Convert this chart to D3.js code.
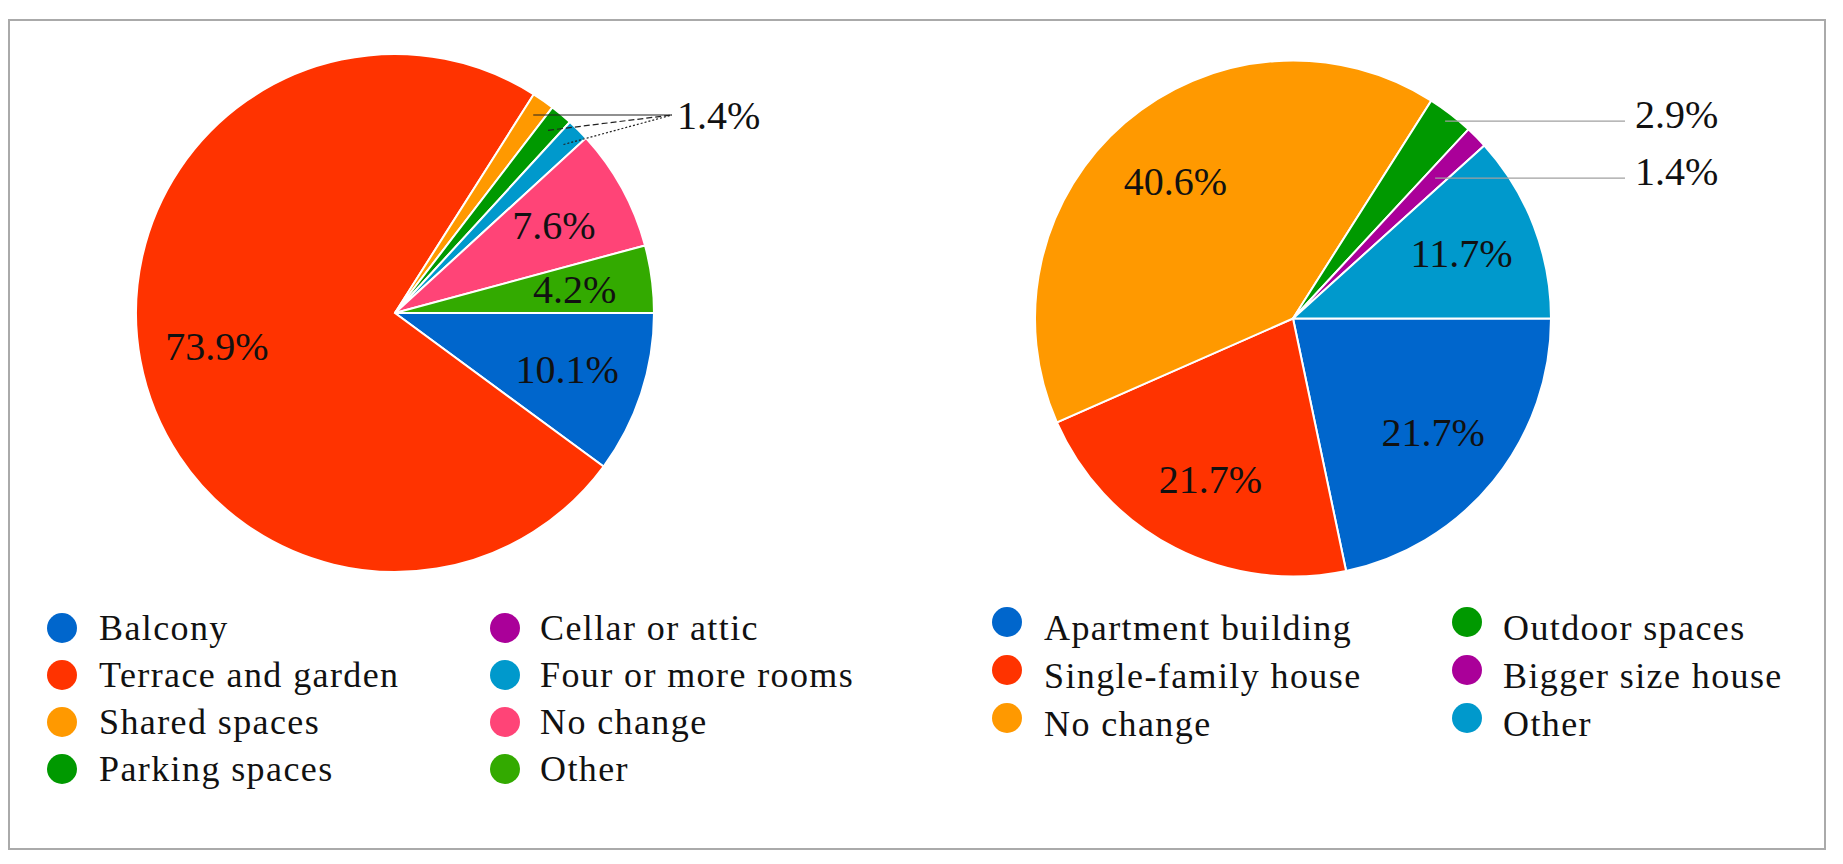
<!DOCTYPE html>
<html>
<head>
<meta charset="utf-8">
<script src="https://cdn.jsdelivr.net/npm/d3@7"></script>
<style>
  body { margin: 0; background: #ffffff; }
  text { font-family: "Liberation Serif", "DejaVu Serif", serif; }
</style>
</head>
<body>
<div id="my_dataviz"></div>
<script>
// data
var leftCategories = ["Balcony", "Terrace and garden", "Shared spaces", "Parking spaces",
                      "Cellar or attic", "Four or more rooms", "No change", "Other"];
var leftValues = [10.1, 73.9, 1.4, 1.4, 0, 1.4, 7.6, 4.2];
var leftColors = ["#0066cc", "#ff3300", "#ff9900", "#009900", "#aa0099", "#0099cc", "#ff4477", "#33aa00"];

var rightCategories = ["Apartment building", "Single-family house", "No change",
                       "Outdoor spaces", "Bigger size house", "Other"];
var rightValues = [21.7, 21.7, 40.6, 2.9, 1.4, 11.7];
var rightColors = ["#0066cc", "#ff3300", "#ff9900", "#009900", "#aa0099", "#0099cc"];

(function () {
    var width = 1843
    var height = 864
    var fontSize = 40
    var digitH = fontSize * 0.68
    var smallLimit = 3      // slices under this get an outside label
    var minLabelStep = 57   // vertical room between outside labels

    var charts = [
        { categories: leftCategories, values: leftValues, colors: leftColors,
          cx: 395, cy: 313, r: 259, groupSmall: true,
          labelGap: 23, lineGap: 5, lineDy: 0, lineColor: "#222",
          dashes: ["none", "6,3", "2,2"],
          dotX: [62, 505], textX: [99, 540], legendBase: 640, legendStep: 47, dotDy: -12 },
        { categories: rightCategories, values: rightValues, colors: rightColors,
          cx: 1293, cy: 318.5, r: 258, groupSmall: false,
          labelGap: 84, lineGap: 10, lineDy: 7, lineColor: "#a0a0a0",
          dashes: ["none"],
          dotX: [1007, 1467], textX: [1044, 1503], legendBase: 640, legendStep: 48, dotDy: -18 }
    ]

    var svg = d3.select("#my_dataviz")
        .append("svg")
        .attr("width", width)
        .attr("height", height)

    // grey frame round the figure
    svg.append("rect")
        .attr("x", 9)
        .attr("y", 20)
        .attr("width", 1816)
        .attr("height", 829)
        .attr("fill", "none")
        .attr("stroke", "#aaaaaa")
        .attr("stroke-width", 2)

    charts.forEach(function (c) {
        var color = d3.scaleOrdinal()
            .domain(c.categories)
            .range(c.colors)

        // pie starts at 3 o'clock and goes clockwise
        var pie = d3.pie()
            .sort(null)
            .startAngle(Math.PI / 2)
            .endAngle(Math.PI / 2 + 2 * Math.PI)
            .value(function (d) { return d.value; })

        var data_ready = pie(c.categories.map(function (k, i) {
            return { key: k, value: c.values[i] };
        }))

        var arcGenerator = d3.arc()
            .innerRadius(0)
            .outerRadius(c.r)

        var g = svg.append("g")
            .attr("transform", "translate(" + c.cx + "," + c.cy + ")")

        g.selectAll("path")
            .data(data_ready.filter(function (d) { return d.value > 0; }))
            .enter()
            .append("path")
            .attr("d", arcGenerator)
            .attr("fill", function (d) { return color(d.data.key); })
            .attr("stroke", "#ffffff")
            .style("stroke-width", "2px")

        function mid(d) { return (d.startAngle + d.endAngle) / 2; }

        // inside labels: start at 0.7r, push outward until the text box fits in the slice
        var inside = data_ready.filter(function (d) { return d.value >= smallLimit; })
        inside.forEach(function (d) {
            var t = g.append("text")
                .text(d.value.toFixed(1) + "%")
                .attr("text-anchor", "middle")
                .style("font-size", fontSize + "px")
                .attr("fill", "#111")
            var w = t.node().getComputedTextLength()
            var a = mid(d), span = d.endAngle - d.startAngle, pad = 3
            function fits(R) {
                var x0 = R * Math.sin(a), y0 = -R * Math.cos(a)
                var ok = true
                ;[[-1, -1], [1, -1], [-1, 1], [1, 1]].forEach(function (s) {
                    var x = x0 + s[0] * (w / 2 + pad), y = y0 + s[1] * (digitH / 2 + pad)
                    var ang = Math.atan2(x, -y)
                    var rel = ((ang - d.startAngle) % (2 * Math.PI) + 4 * Math.PI) % (2 * Math.PI)
                    if (rel > span || Math.sqrt(x * x + y * y) > c.r - pad) ok = false
                })
                return ok
            }
            var R = c.r * 0.7
            for (var rr = c.r * 0.7; rr < c.r; rr += 1) {
                if (fits(rr)) { R = rr; break; }
            }
            t.attr("x", R * Math.sin(a))
                .attr("y", -R * Math.cos(a) + digitH / 2)
        })

        // outside labels with leader lines
        var small = data_ready.filter(function (d) { return d.value > 0 && d.value < smallLimit; })
        var groups = c.groupSmall ? [small] : small.map(function (d) { return [d]; })
        var labelX = c.r + c.labelGap
        var lastY = -Infinity
        groups.forEach(function (grp) {
            var ly = d3.mean(grp, function (d) { return -c.r * Math.cos(mid(d)); })
            ly = Math.max(ly, lastY + minLabelStep)
            lastY = ly
            var endX = labelX - c.lineGap, endY = ly + c.lineDy

            grp.forEach(function (d, i) {
                var a = mid(d)
                var hitR = -endY / Math.cos(a)
                var sx, sy
                if (hitR >= c.r * 0.6 && hitR <= c.r - 8) {
                    sx = hitR * Math.sin(a); sy = endY
                } else {
                    sx = c.r * 0.92 * Math.sin(a); sy = -c.r * 0.92 * Math.cos(a)
                }
                g.append("line")
                    .attr("x1", sx).attr("y1", sy)
                    .attr("x2", endX).attr("y2", endY)
                    .attr("stroke", c.lineColor)
                    .attr("stroke-width", 1.2)
                    .attr("stroke-dasharray", c.dashes[i % c.dashes.length])
            })

            g.append("text")
                .text(grp[0].value.toFixed(1) + "%")
                .attr("x", labelX)
                .attr("y", ly + digitH / 2)
                .style("font-size", fontSize + "px")
                .attr("fill", "#111")
        })

        // legend, two columns filled top to bottom
        var rows = Math.ceil(c.categories.length / 2)
        var legend = svg.append("g")
        c.categories.forEach(function (k, i) {
            var col = Math.floor(i / rows), row = i % rows
            var base = c.legendBase + row * c.legendStep
            legend.append("circle")
                .attr("cx", c.dotX[col])
                .attr("cy", base + c.dotDy)
                .attr("r", 15)
                .attr("fill", color(k))
            legend.append("text")
                .text(k)
                .attr("x", c.textX[col])
                .attr("y", base)
                .style("font-size", "36px")
                .style("letter-spacing", "1.4px")
                .attr("fill", "#111")
        })
    })
})();
</script>
</body>
</html>
